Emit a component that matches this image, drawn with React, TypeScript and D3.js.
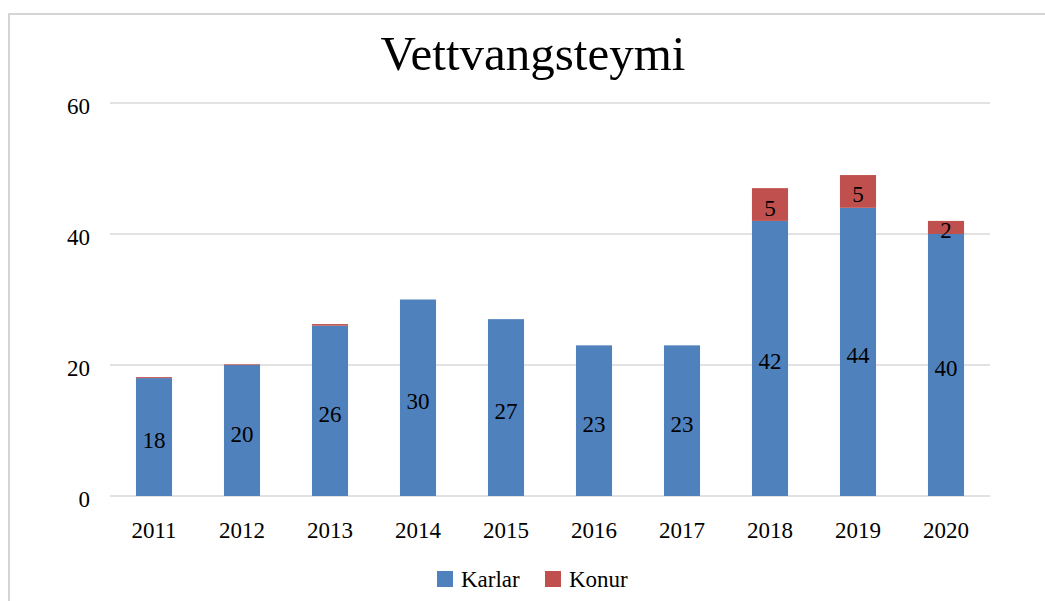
import * as d3 from 'd3';

const years = ['2011', '2012', '2013', '2014', '2015', '2016', '2017', '2018', '2019', '2020'];
const karlar = [18, 20, 26, 30, 27, 23, 23, 42, 44, 40];
const konur = [0.15, 0.1, 0.25, 0, 0, 0, 0, 5, 5, 2];
const yTicks = [0, 20, 40, 60];

const BLUE = '#4F81BD';
const RED = '#C0504D';
const GRID = '#D9D9D9';
const FONT = "'Liberation Serif', 'Times New Roman', Times, serif";

export default function App() {
  const width = 1045;
  const height = 601;
  const x = d3.scaleBand().domain(years).range([110, 990]).paddingInner(0.59).paddingOuter(0.295);
  const y = d3.scaleLinear().domain([0, 60]).range([496, 103]);
  const bw = x.bandwidth();

  const series = [
    { name: 'Karlar', color: BLUE, values: karlar },
    { name: 'Konur', color: RED, values: konur },
  ];
  const stacked = d3
    .stack<number>()
    .keys(['0', '1'])
    .value((i, k) => series[+k].values[i])(years.map((_, i) => i));

  return (
    <svg
      width={width}
      height={height}
      style={{ position: 'absolute', left: 0, top: 0, background: '#fff', fontFamily: FONT }}
    >
      <path d={`M9,${height} V14 H${width}`} fill="none" stroke="#c8c8c8" strokeWidth={1.5} />
      <text x={533} y={70} textAnchor="middle" fontSize={49} fill="#000">
        Vettvangsteymi
      </text>
      {yTicks.map((t) => (
        <g key={t}>
          <line x1={110} x2={990} y1={y(t)} y2={y(t)} stroke={GRID} strokeWidth={1.5} />
          <text x={90} y={y(t) + 11} textAnchor="end" fontSize={23} fill="#000">
            {t}
          </text>
        </g>
      ))}
      {stacked.map((layer, si) => (
        <g key={si}>
          {layer.map((d, i) => {
            const v = series[si].values[i];
            if (v <= 0) return null;
            const top = y(d[1]);
            const bot = y(d[0]);
            return (
              <g key={years[i]}>
                <rect x={x(years[i])} y={top} width={bw} height={Math.max(bot - top, 0.8)} fill={series[si].color} />
                {v >= 1 && (
                  <text
                    x={(x(years[i]) ?? 0) + bw / 2}
                    y={(top + bot) / 2 + 11}
                    textAnchor="middle"
                    fontSize={23}
                    fill="#000"
                  >
                    {v}
                  </text>
                )}
              </g>
            );
          })}
        </g>
      ))}
      {years.map((yr) => (
        <text key={yr} x={(x(yr) ?? 0) + bw / 2} y={538} textAnchor="middle" fontSize={23} fill="#000">
          {yr}
        </text>
      ))}
      <g>
        <rect x={437} y={571} width={16} height={16} fill={BLUE} />
        <text x={461} y={587} fontSize={23} fill="#000">Karlar</text>
        <rect x={545} y={571} width={16} height={16} fill={RED} />
        <text x={569} y={587} fontSize={23} fill="#000">Konur</text>
      </g>
    </svg>
  );
}
